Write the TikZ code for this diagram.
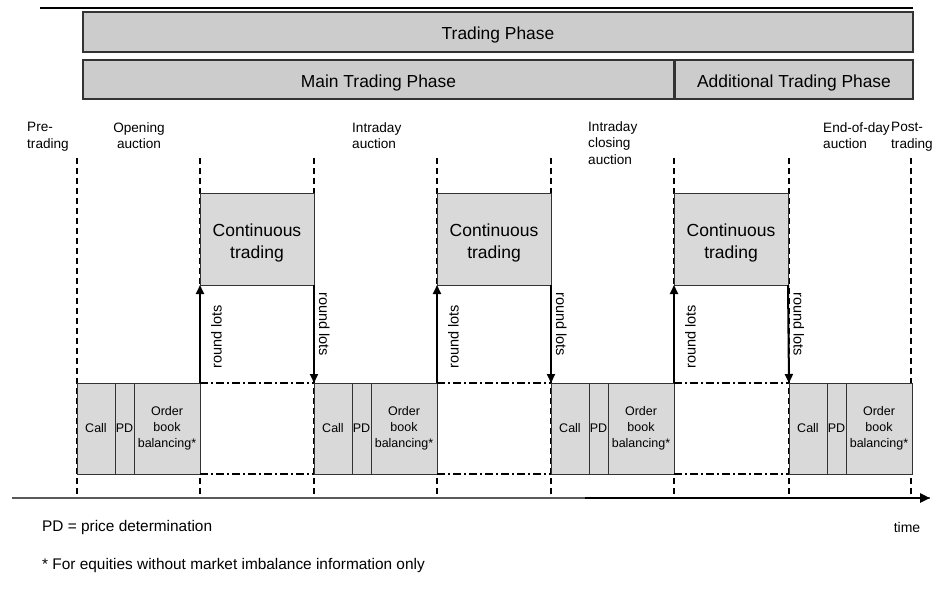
\documentclass[tikz,border=0pt]{standalone}
\usepackage{fontspec}
\setmainfont{Liberation Sans}
\usetikzlibrary{positioning,arrows.meta}

\definecolor{hdrgray}{HTML}{CCCCCC}
\definecolor{boxgray}{HTML}{D9D9D9}

\tikzset{
  phase/.style={draw=black!80, line width=1.5pt, fill=hdrgray, anchor=north west,
    inner sep=0pt, outer sep=0pt, text height=15pt, text depth=0pt,
    font=\fontsize{17.4}{20}\selectfont},
  contbox/.style={draw=black!80, line width=1pt, fill=boxgray, anchor=north west,
    minimum width=114, minimum height=92, inner sep=0pt, outer sep=0pt,
    align=center, font=\fontsize{17.5}{22}\selectfont},
  cell/.style={draw=black!80, line width=1pt, fill=boxgray, minimum height=91,
    inner sep=0pt, outer sep=0pt, align=center, font=\fontsize{12.5}{16}\selectfont},
  lbl/.style={anchor=north west, align=left, inner sep=0pt, font=\fontsize{13.6}{16.8}\selectfont},
  note/.style={anchor=west, inner sep=0pt, font=\fontsize{15.4}{18}\selectfont},
  cut/.style={line width=2pt, dash pattern=on 6pt off 4pt},
  lotline/.style={line width=2pt, dash pattern=on 8pt off 3pt on 2pt off 3pt},
  lots/.style={line width=2pt, -{Triangle[length=9pt,width=8pt]}},
  lotlbl/.style={font=\fontsize{14.5}{16}\selectfont, inner xsep=0pt},
}

\begin{document}
\begin{tikzpicture}[x=1pt,y=-1pt]
  \useasboundingbox (0,0) rectangle (943,603);

  % phases on top
  \draw[line width=1.5pt] (40,8) -- (913,8);
  \node[phase, minimum width=830, minimum height=40] (tp) at (83,12) {Trading Phase};
  \node[phase, minimum width=591, minimum height=39] (mtp) at (83,60) {Main Trading Phase};
  \node[phase, minimum width=238, minimum height=39] (atp) at (675,60) {Additional Trading Phase};

  % period labels
  \node[lbl] (pre) at (27,122) {Pre-\\trading};
  \node[lbl, anchor=north, align=center] (open) at (139,122) {Opening\\auction};
  \node[lbl] (intra) at (352,122) {Intraday\\auction};
  \node[lbl] (close) at (588,121) {Intraday\\closing\\auction};
  \node[lbl] (eod) at (823,122) {End-of-day\\auction};
  \node[lbl] (post) at (891,122) {Post-\\trading};

  % cut lines
  \foreach \x in {77,200,314,437,551,674,789,911}
    \draw[cut] (\x,158) -- (\x,496);

  % time axis
  \coordinate (t0) at (12,498);
  \coordinate (tm) at (585,498);
  \coordinate (t1) at (930,498);
  \draw[line width=1.5pt, black!65] (t0) -- (t1);
  \draw[line width=2.5pt, -{Triangle[length=10pt,width=9pt]}] (tm) -- (t1);
  \node[font=\fontsize{14}{16}\selectfont] (time) at (907,527) {time};

  % continuous trading
  \foreach \x [count=\i] in {200,437,674}
    \node[contbox] (ct\i) at (\x,193) {\rule{0pt}{21pt}Continuous\\trading};

  % auctions
  \foreach \x [count=\i] in {77,314,551,789} {
    \node[cell, anchor=north west, minimum width=38] (call\i) at (\x,383) {Call};
    \node[cell, minimum width=19, right=0pt of call\i] (pd\i) {PD};
    \node[cell, minimum width=66, right=0pt of pd\i] (obb\i) {Order\\book\\balancing*};
  }

  % round lots
  \foreach \i/\j in {1/2,2/3,3/4} {
    \draw[lotline] (obb\i.north east) -- (call\j.north west);
    \draw[lotline] (obb\i.south east) -- (call\j.south west);
    \draw[lots] (obb\i.north east) -- (ct\i.south west)
      node[lotlbl, pos=.47, rotate=90, anchor=north, inner ysep=10pt] {round lots};
    \draw[lots] (ct\i.south east) -- (call\j.north west)
      node[lotlbl, pos=.40, rotate=-90, anchor=south, inner ysep=4pt] {round lots};
  }

  % notes
  \node[note] (pdnote) at (42,528) {PD = price determination};
  \node[note] (starnote) at (42,566) {* For equities without market imbalance information only};
\end{tikzpicture}
\end{document}
